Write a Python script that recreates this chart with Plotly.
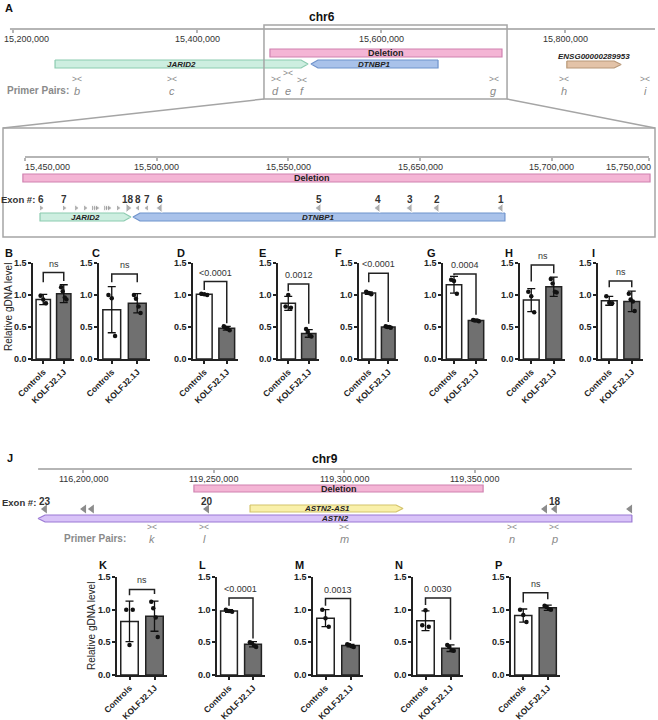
import plotly.graph_objects as go

W, H = 658, 720
FONT = "Arial, 'Liberation Sans', sans-serif"

# ---------------- panel A : chr6 overview ----------------
chr6_ruler = [15_196_700, 15_897_800]
chr6_ticks = [15_200_000, 15_400_000, 15_600_000, 15_800_000]
chr6_tick_labels = ["15,200,000", "15,400,000", "15,600,000", "15,800,000"]
chr6_deletion = [15_479_300, 15_731_500]
chr6_zoom_window = [15_472_800, 15_737_000]
chr6_genes = ["JARID2", "DTNBP1", "ENSG00000289953"]
chr6_gene_start = [15_245_700, 15_523_900, 15_802_000]
chr6_gene_end = [15_520_700, 15_662_000, 15_861_000]
chr6_gene_strand = ["+", "-", "+"]
chr6_primers = ["b", "c", "d", "e", "f", "g", "h", "i"]
chr6_primer_pos = [15_269_600, 15_372_800, 15_485_800, 15_499_400, 15_513_600, 15_722_800, 15_798_900, 15_887_000]

# ---------------- zoomed chr6 window ----------------
det_ruler = [15_450_000, 15_686_900]
det_ticks = [15_450_000, 15_500_000, 15_550_000, 15_600_000, 15_650_000, 15_686_900]
# tick labels as printed in the source figure
det_tick_labels = ["15,450,000", "15,500,000", "15,550,000", "15,650,000", "15,700,000", "15,750,000"]
det_deletion = [15_449_200, 15_687_300]
det_genes = ["JARID2", "DTNBP1"]
det_gene_start = [15_455_700, 15_491_000]
det_gene_end = [15_490_200, 15_632_200]
det_gene_strand = ["+", "-"]
jarid2_exons = [15_456_100, 15_464_800, 15_469_400, 15_472_800, 15_475_800, 15_476_600, 15_477_300,
                15_480_400, 15_481_100, 15_481_900, 15_485_300, 15_489_100]
dtnbp1_exons = [15_492_900, 15_496_300, 15_501_300, 15_561_600, 15_584_000, 15_596_200, 15_606_400, 15_630_700]
det_exon_labels = ["6", "7", "18", "8", "7", "6", "5", "4", "3", "2", "1"]
det_exon_label_pos = [15_456_100, 15_464_800, 15_489_100, 15_492_900, 15_496_300, 15_501_300,
                      15_561_600, 15_584_000, 15_596_200, 15_606_400, 15_630_700]

# ---------------- panel J : chr9 ----------------
chr9_ruler = [119_182_800, 119_410_300]
chr9_ticks = [119_200_000, 119_250_000, 119_300_000, 119_350_000]
chr9_tick_labels = ["116,200,000", "119,250,000", "119,300,000", "119,350,000"]
chr9_deletion = [119_242_500, 119_353_300]
chr9_genes = ["ASTN2-AS1", "ASTN2"]
chr9_gene_start = [119_264_000, 119_182_800]
chr9_gene_end = [119_322_600, 119_410_300]
chr9_gene_strand = ["+", "-"]
astn2_exons = [119_185_400, 119_200_400, 119_203_400, 119_247_500, 119_377_000, 119_380_800, 119_409_600]
chr9_exon_labels = ["23", "20", "18"]
chr9_exon_label_pos = [119_185_400, 119_247_500, 119_380_800]
chr9_primers = ["k", "l", "m", "n", "p"]
chr9_primer_pos = [119_226_400, 119_246_400, 119_300_000, 119_364_400, 119_380_500]

# ---------------- qPCR bar panels ----------------
groups = ["Controls", "KOLFJ2.1J"]
panels = ["B", "C", "D", "E", "F", "G", "H", "I", "K", "L", "M", "N", "P"]
ctrl_mean = [0.93, 0.77, 1.01, 0.87, 1.03, 1.16, 0.92, 0.91, 0.82, 0.98, 0.87, 0.83, 0.91]
ctrl_sd = [0.08, 0.36, 0.01, 0.11, 0.02, 0.13, 0.18, 0.07, 0.31, 0.02, 0.13, 0.15, 0.10]
ko_mean = [1.02, 0.87, 0.48, 0.40, 0.50, 0.60, 1.13, 0.90, 0.90, 0.47, 0.45, 0.41, 1.03]
ko_sd = [0.14, 0.15, 0.03, 0.06, 0.01, 0.01, 0.15, 0.16, 0.23, 0.04, 0.02, 0.05, 0.04]
ctrl_points = [[0.99, 0.87, 0.93], [1.00, 0.36, 0.95], [1.02, 1.00, 1.01], [0.82, 0.80, 1.00],
               [1.05, 1.01, 1.03], [1.24, 1.02, 1.22], [1.05, 0.73, 0.98], [0.98, 0.87, 0.88],
               [1.00, 1.00, 0.46], [1.00, 0.97, 0.98], [1.00, 0.74, 0.87], [0.76, 0.74, 0.99],
               [1.00, 0.81, 0.92]]
ko_points = [[1.12, 0.93, 1.06, 0.96], [1.00, 0.72, 0.94, 0.82], [0.51, 0.45, 0.49, 0.47],
             [0.47, 0.35, 0.42, 0.37], [0.51, 0.49, 0.50, 0.50], [0.61, 0.59, 0.60, 0.60],
             [1.25, 1.04, 1.18, 1.05], [1.02, 0.75, 0.93, 0.90], [1.12, 0.58, 1.02, 0.88],
             [0.50, 0.43, 0.49, 0.45], [0.47, 0.43, 0.46, 0.44], [0.46, 0.37, 0.43, 0.38],
             [1.06, 1.00, 1.04, 1.01]]
p_labels = ["ns", "ns", "<0.0001", "0.0012", "<0.0001", "0.0004", "ns", "ns",
            "ns", "<0.0001", "0.0013", "0.0030", "ns"]

# ---------------- layout / style ----------------
# axis ranges map the full page width for each genome track
A_RANGE = [15_185_870, 15_901_087]
D_RANGE = [15_440_509, 15_690_318]
J_RANGE = [119_168_199, 119_420_307]
GENE_STYLE = {
    "JARID2": ("#cdeee0", "#8ccbb0"),
    "DTNBP1": ("#a9c2ea", "#6f93cc"),
    "ENSG00000289953": ("#e3c3a8", "#b89878"),
    "ASTN2-AS1": ("#f9f0aa", "#d4c36a"),
    "ASTN2": ("#d9c3f8", "#9a78d4"),
}
DEL_FILL, DEL_LINE = "#f4b5d5", "#cf82b0"
EXON_COLOR = "#8c8c8c"
GREY_TXT = "#8a8a8a"
RULER = "#b5b5b5"
# edge tick labels are nudged inwards, as in the source
A_LABEL_SHIFT = [("left", -11), ("center", 0), ("center", 0), ("center", 0)]
D_LABEL_SHIFT = [("left", -2)] + [("center", 0)] * 4 + [("right", 4)]
J_LABEL_SHIFT = [("center", 0)] * 4
# bar panel geometry in pixels: (y-axis x, x-axis end)
PANEL_X = [(33, 74), (99, 150), (193, 238), (278, 319), (359, 398), (443, 487), (520, 565), (598, 643),
           (117, 167), (217, 265), (313, 363), (413, 463), (511, 560)]
ROW_Y = [(263, 359), (577, 675)]
LETTER_X = [3, 90, 175, 257, 333, 425, 503, 590, 97, 197, 293, 393, 493]
# significance brackets (top, left leg end, right leg end) in data units
BRACKETS = [(1.35, 1.20, 1.22), (1.33, 1.20, 1.20), (1.21, 1.08, 0.56), (1.17, 1.06, 0.55),
            (1.34, 1.20, 0.58), (1.33, 1.31, 0.69), (1.47, 1.21, 1.34), (1.22, 1.12, 1.12),
            (1.31, 1.22, 1.24), (1.18, 1.06, 0.56), (1.17, 1.06, 0.52), (1.18, 1.07, 0.54),
            (1.26, 1.11, 1.16)]
CTRL_JITTER = [-0.13, 0.13, 0.0]
KO_JITTER = [-0.13, 0.13, -0.05, 0.05]

fig = go.Figure()
shapes, annotations = [], []


def txt(text, x, y, xref="paper", size=9, color="#222", bold=False, italic=False, xanchor="center", **kw):
    if xref == "paper":
        x = x / W
    annotations.append(dict(text=text, x=x, y=y, xref=xref, yref="y", showarrow=False,
                            xanchor=xanchor, yanchor="middle",
                            font=dict(family=FONT, size=size, color=color,
                                      weight="bold" if bold else "normal",
                                      style="italic" if italic else "normal"), **kw))


def gene_arrow(xref, name, start, end, strand, top, bot, tip):
    fill, line = GENE_STYLE[name]
    mid = (top + bot) / 2
    if strand == "+":
        xs = [start, end - tip, end, end - tip, start, start]
    else:
        xs = [end, start + tip, start, start + tip, end, end]
    ys = [top, top, mid, bot, bot, top]
    fig.add_trace(go.Scatter(x=xs, y=ys, mode="lines", fill="toself", fillcolor=fill,
                             line=dict(color=line, width=1.2), xaxis=xref, yaxis="y",
                             hoverinfo="skip"))


def track_axis(rng, ypx, ticks):
    return dict(domain=[0, 1], range=rng, anchor="free", position=1 - ypx / H, automargin=False,
                showline=False, showgrid=False, zeroline=False, ticks="outside", ticklen=3,
                tickcolor=RULER, tickwidth=1.5, tickvals=ticks, showticklabels=False, fixedrange=True)


def ruler(xref, span, ypx, ticks, labels, shifts):
    shapes.append(dict(type="line", xref=xref, yref="y", x0=span[0], x1=span[1], y0=ypx, y1=ypx,
                       line=dict(color=RULER, width=2)))
    for t, lab, (anc, dx) in zip(ticks, labels, shifts):
        txt(lab, t, ypx + 9.5, xref=xref, size=9, color="#333", xanchor=anc, xshift=dx)


def bp_per_px(rng):
    return (rng[1] - rng[0]) / W


def primer_row(xref, names, pos, mark_y, letter_y, mark_dy=None):
    mark_dy = mark_dy or {}
    for n, p in zip(names, pos):
        txt("&gt;&lt;", p, mark_y + mark_dy.get(n, 0), xref=xref, size=8.5, color=GREY_TXT)
        txt(n, p, letter_y, xref=xref, size=11, color=GREY_TXT, italic=True)


# ---------- panel A ----------
txt("A", 3, 8, size=11, bold=True, color="#111", xanchor="left")
txt("chr6", 322, 17, size=12, bold=True, color="#111")
ruler("x", chr6_ruler, 29, chr6_ticks, chr6_tick_labels, A_LABEL_SHIFT)
shapes.append(dict(type="rect", xref="x", yref="y", x0=chr6_deletion[0], x1=chr6_deletion[1], y0=49, y1=57,
                   fillcolor=DEL_FILL, line=dict(color=DEL_LINE, width=1.2), layer="below"))
txt("Deletion", (chr6_deletion[0] + chr6_deletion[1]) / 2, 53, xref="x", size=9, bold=True)
tipA = 7 * bp_per_px(A_RANGE)
for g, s, e, st in zip(chr6_genes, chr6_gene_start, chr6_gene_end, chr6_gene_strand):
    top, bot = (61, 68) if g.startswith("ENSG") else (60, 68)
    gene_arrow("x", g, s, e, st, top, bot, tipA)
    ly = 56 if g.startswith("ENSG") else 64
    txt(g, (s + e) / 2, ly, xref="x", size=8, bold=True, italic=True)
txt("Primer Pairs:", 5, 90, size=10, bold=True, color=GREY_TXT, xanchor="left")
primer_row("x", chr6_primers, chr6_primer_pos, 79, 91, {"e": -6, "f": 1})

# zoom box and connectors
shapes.append(dict(type="rect", xref="x", yref="y", x0=chr6_zoom_window[0], x1=chr6_zoom_window[1],
                   y0=25, y1=99, line=dict(color="#a5a5a5", width=1.5)))
zl = (chr6_zoom_window[0] - A_RANGE[0]) / (A_RANGE[1] - A_RANGE[0])
zr = (chr6_zoom_window[1] - A_RANGE[0]) / (A_RANGE[1] - A_RANGE[0])
shapes.append(dict(type="line", xref="paper", yref="y", x0=zl, y0=99, x1=3 / W, y1=128,
                   line=dict(color="#a5a5a5", width=1.5)))
shapes.append(dict(type="line", xref="paper", yref="y", x0=zr, y0=99, x1=655 / W, y1=128,
                   line=dict(color="#a5a5a5", width=1.5)))
shapes.append(dict(type="rect", xref="paper", yref="y", x0=3 / W, x1=655 / W, y0=128, y1=237,
                   line=dict(color="#a5a5a5", width=1.5)))

# ---------- zoomed window ----------
ruler("x2", det_ruler, 157, det_ticks, det_tick_labels, D_LABEL_SHIFT)
shapes.append(dict(type="rect", xref="x2", yref="y", x0=det_deletion[0], x1=det_deletion[1], y0=174, y1=182,
                   fillcolor=DEL_FILL, line=dict(color=DEL_LINE, width=1.2), layer="below"))
txt("Deletion", 312, 178, size=9, bold=True)
tipD = 7 * bp_per_px(D_RANGE)
for g, s, e, st in zip(det_genes, det_gene_start, det_gene_end, det_gene_strand):
    gene_arrow("x2", g, s, e, st, 213, 221, tipD)
    txt(g, (s + e) / 2, 217, xref="x2", size=8, bold=True, italic=True)
txt("Exon #:", 37, 199, size=9.5, bold=True, color="#333", xanchor="right")
for lab, p in zip(det_exon_labels, det_exon_label_pos):
    txt(lab, p, 199, xref="x2", size=10, bold=True, color="#333")
big = set(det_exon_label_pos[2:])
fig.add_trace(go.Scatter(x=jarid2_exons, y=[208] * len(jarid2_exons), xaxis="x2", yaxis="y", mode="markers",
                         marker=dict(symbol="triangle-right", color=EXON_COLOR,
                                     size=[8 if p in big else 6 for p in jarid2_exons]),
                         hoverinfo="skip"))
fig.add_trace(go.Scatter(x=dtnbp1_exons, y=[208] * len(dtnbp1_exons), xaxis="x2", yaxis="y", mode="markers",
                         marker=dict(symbol="triangle-left", color=EXON_COLOR,
                                     size=[8 if i >= 2 else 6 for i in range(len(dtnbp1_exons))]),
                         hoverinfo="skip"))

# ---------- panel J ----------
txt("J", 5, 458, size=11, bold=True, color="#111", xanchor="left")
txt("chr9", 325, 459, size=12, bold=True, color="#111")
ruler("x3", chr9_ruler, 469, chr9_ticks, chr9_tick_labels, J_LABEL_SHIFT)
shapes.append(dict(type="rect", xref="x3", yref="y", x0=chr9_deletion[0], x1=chr9_deletion[1], y0=485, y1=492,
                   fillcolor=DEL_FILL, line=dict(color=DEL_LINE, width=1.2), layer="below"))
txt("Deletion", (chr9_deletion[0] + chr9_deletion[1]) / 2, 488.5, xref="x3", size=9, bold=True)
tipJ = 7 * bp_per_px(J_RANGE)
for g, s, e, st in zip(chr9_genes, chr9_gene_start, chr9_gene_end, chr9_gene_strand):
    top, bot = (505, 512) if g.endswith("AS1") else (515, 522)
    gene_arrow("x3", g, s, e, st, top, bot, tipJ)
    txt(g, (s + e) / 2, (top + bot) / 2, xref="x3", size=8, bold=True, italic=True)
txt("Exon #:", 38, 502, size=9.5, bold=True, color="#333", xanchor="right")
for lab, p in zip(chr9_exon_labels, chr9_exon_label_pos):
    txt(lab, p, 501, xref="x3", size=10, bold=True, color="#333")
fig.add_trace(go.Scatter(x=astn2_exons, y=[509] * len(astn2_exons), xaxis="x3", yaxis="y", mode="markers",
                         marker=dict(symbol="triangle-left", color=EXON_COLOR, size=8), hoverinfo="skip"))
txt("Primer Pairs:", 62, 538, size=10, bold=True, color=GREY_TXT, xanchor="left")
primer_row("x3", chr9_primers, chr9_primer_pos, 527, 539)

layout = dict(
    xaxis=track_axis(A_RANGE, 29, chr6_ticks),
    xaxis2=track_axis(D_RANGE, 157, det_ticks),
    xaxis3=track_axis(J_RANGE, 469, chr9_ticks),
    yaxis=dict(domain=[0, 1], range=[H, 0], visible=False, anchor="x", fixedrange=True, automargin=False),
)

# ---------- bar panels ----------
axfont = dict(family=FONT, size=9, color="#222", weight="bold")
xfont = dict(family=FONT, size=8.5, color="#222", weight="bold")
for i, p in enumerate(panels):
    k = i + 4
    xr, yr = f"x{k}", f"y{k}"
    x0, x1 = PANEL_X[i]
    row = 0 if i < 8 else 1
    ytop, ybot = ROW_Y[row]
    layout[f"xaxis{k}"] = dict(domain=[x0 / W, x1 / W], anchor=yr, range=[-0.5, 1.5], tickvals=[0, 1],
                               ticktext=groups, tickangle=-45, showline=True, linecolor="#222", linewidth=1.5,
                               ticks="outside", ticklen=3, tickcolor="#222", tickwidth=1.5, tickfont=xfont,
                               showgrid=False, zeroline=False, fixedrange=True, automargin=False)
    layout[f"yaxis{k}"] = dict(domain=[1 - ybot / H, 1 - ytop / H], anchor=xr, range=[0, 1.5],
                               tickvals=[0, 0.5, 1, 1.5], ticktext=["0.0", "0.5", "1.0", "1.5"],
                               showline=True, linecolor="#222", linewidth=1.5, ticks="outside", ticklen=3,
                               tickcolor="#222", tickwidth=1.5, tickfont=axfont, showgrid=False,
                               zeroline=False, fixedrange=True, automargin=False)
    fig.add_trace(go.Bar(x=[0, 1], y=[ctrl_mean[i], ko_mean[i]], width=0.7, xaxis=xr, yaxis=yr,
                         marker=dict(color=["white", "#707070"], line=dict(color="#222", width=1.5)),
                         error_y=dict(type="data", array=[ctrl_sd[i], ko_sd[i]], color="#111",
                                      thickness=1.3, width=4),
                         hoverinfo="skip"))
    px_ = [j for j in CTRL_JITTER[:len(ctrl_points[i])]] + [1 + j for j in KO_JITTER[:len(ko_points[i])]]
    fig.add_trace(go.Scatter(x=px_, y=ctrl_points[i] + ko_points[i], mode="markers", xaxis=xr, yaxis=yr,
                             marker=dict(color="#111", size=4.5), cliponaxis=False, hoverinfo="skip"))
    top, lft, rgt = BRACKETS[i]
    shapes.append(dict(type="path", xref=xr, yref=yr, path=f"M 0,{lft} L 0,{top} L 1,{top} L 1,{rgt}",
                       line=dict(color="#222", width=1.5)))
    annotations.append(dict(text=p_labels[i], x=0.5, y=top, xref=xr, yref=yr, showarrow=False,
                            yanchor="bottom", yshift=2, font=dict(family=FONT, size=9, color="#333")))
    annotations.append(dict(text=p, x=LETTER_X[i] / W, y=253 if row == 0 else 565, xref="paper", yref="y",
                            showarrow=False, xanchor="left", yanchor="middle",
                            font=dict(family=FONT, size=11, color="#111", weight="bold")))

for xpx, ypx in [(8, 307), (91, 626)]:
    annotations.append(dict(text="Relative gDNA level", x=xpx / W, y=ypx, xref="paper", yref="y",
                            showarrow=False, textangle=-90, xanchor="center", yanchor="middle",
                            font=dict(family=FONT, size=10, color="#222")))

fig.update_layout(**layout)
fig.update_layout(
    width=W, height=H, margin=dict(l=0, r=0, t=0, b=0, pad=0),
    paper_bgcolor="white", plot_bgcolor="rgba(0,0,0,0)",
    showlegend=False, shapes=shapes, annotations=annotations,
    font=dict(family=FONT),
)

fig.write_html("out.html", config={"displayModeBar": False},
               post_script="document.body.style.margin='0';")
